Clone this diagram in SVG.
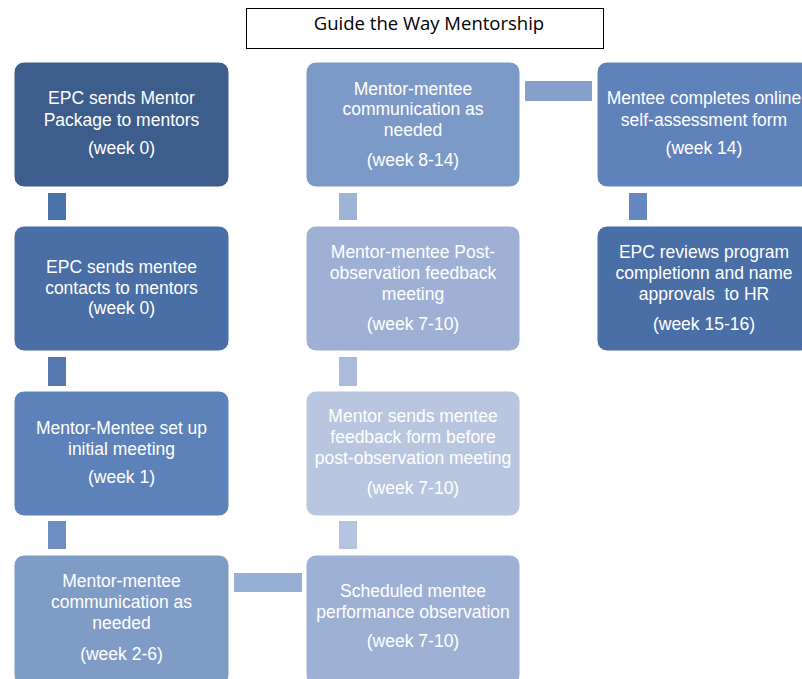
<svg xmlns="http://www.w3.org/2000/svg" width="802" height="679" viewBox="0 0 802 679">
<style>
.t{font-family:"Liberation Sans",Arial,sans-serif;font-size:17.5px;fill:#ffffff;text-anchor:middle;white-space:pre}
.title{font-family:"Open Sans","Liberation Sans",sans-serif;font-size:18.5px;fill:#000000;text-anchor:middle}
.b{stroke:#ffffff;stroke-width:1}
</style>
<rect width="802" height="679" fill="#ffffff"/>
<g id="title">
<rect x="246.5" y="8.5" width="357" height="40" fill="#ffffff" stroke="#000000" stroke-width="1"/>
<text class="title" x="429" y="30">Guide the Way Mentorship</text>
</g>
<g id="connectors">
<rect x="48" y="193" width="18" height="27" fill="#4a72aa"/>
<rect x="48" y="357" width="18" height="29" fill="#5477b0"/>
<rect x="48" y="521" width="18" height="28" fill="#6e8ec2"/>
<rect x="234" y="573" width="68" height="19" fill="#95aed4"/>
<rect x="339" y="521" width="18" height="28" fill="#b5c4e0"/>
<rect x="339" y="357" width="18" height="29" fill="#aabbd9"/>
<rect x="339" y="193" width="18" height="27" fill="#9fb3d6"/>
<rect x="525" y="81" width="67" height="20" fill="#85a0cb"/>
<rect x="629" y="193" width="18" height="27" fill="#6688c0"/>
</g>
<g id="n1">
<rect class="b" x="14" y="62" width="215" height="125" rx="10" fill="#3d5e8d"/>
<text class="t" x="121.5" y="104">EPC sends Mentor</text>
<text class="t" x="121.5" y="126">Package to mentors</text>
<text class="t" x="121.5" y="154">(week 0)</text>
</g>
<g id="n2">
<rect class="b" x="14" y="226" width="215" height="125" rx="10" fill="#4a6ea6"/>
<text class="t" x="121.5" y="273">EPC sends mentee</text>
<text class="t" x="121.5" y="294">contacts to mentors</text>
<text class="t" x="121.5" y="314">(week 0)</text>
</g>
<g id="n3">
<rect class="b" x="14" y="391" width="215" height="125" rx="10" fill="#5d82b9"/>
<text class="t" x="121.5" y="434">Mentor-Mentee set up</text>
<text class="t" x="121.5" y="455">initial meeting</text>
<text class="t" x="121.5" y="483">(week 1)</text>
</g>
<g id="n4">
<rect class="b" x="14" y="555" width="215" height="130" rx="10" fill="#7f9cc7"/>
<text class="t" x="121.5" y="587">Mentor-mentee</text>
<text class="t" x="121.5" y="608">communication as</text>
<text class="t" x="121.5" y="629">needed</text>
<text class="t" x="121.5" y="660">(week 2-6)</text>
</g>
<g id="n5">
<rect class="b" x="306" y="555" width="214" height="130" rx="10" fill="#9db1d4"/>
<text class="t" x="413" y="597">Scheduled mentee</text>
<text class="t" x="413" y="618">performance observation</text>
<text class="t" x="413" y="647">(week 7-10)</text>
</g>
<g id="n6">
<rect class="b" x="306" y="391" width="214" height="125" rx="10" fill="#b8c6e0"/>
<text class="t" x="413" y="422">Mentor sends mentee</text>
<text class="t" x="413" y="443">feedback form before</text>
<text class="t" x="413" y="464">post-observation meeting</text>
<text class="t" x="413" y="494">(week 7-10)</text>
</g>
<g id="n7">
<rect class="b" x="306" y="226" width="214" height="125" rx="10" fill="#9eb1d5"/>
<text class="t" x="413" y="258">Mentor-mentee Post-</text>
<text class="t" x="413" y="279">observation feedback</text>
<text class="t" x="413" y="300">meeting</text>
<text class="t" x="413" y="330">(week 7-10)</text>
</g>
<g id="n8">
<rect class="b" x="306" y="62" width="214" height="125" rx="10" fill="#7c9ac8"/>
<text class="t" x="413" y="95">Mentor-mentee</text>
<text class="t" x="413" y="115">communication as</text>
<text class="t" x="413" y="136">needed</text>
<text class="t" x="413" y="166">(week 8-14)</text>
</g>
<g id="n9">
<rect class="b" x="597" y="62" width="214" height="125" rx="10" fill="#5f82bb"/>
<text class="t" x="704" y="104">Mentee completes online</text>
<text class="t" x="704" y="126">self-assessment form</text>
<text class="t" x="704" y="154">(week 14)</text>
</g>
<g id="n10">
<rect class="b" x="597" y="226" width="214" height="125" rx="10" fill="#4a6ea6"/>
<text class="t" x="704" y="258">EPC reviews program</text>
<text class="t" x="704" y="279">completionn and name</text>
<text class="t" x="704" y="300">approvals  to HR</text>
<text class="t" x="704" y="330">(week 15-16)</text>
</g>
</svg>
